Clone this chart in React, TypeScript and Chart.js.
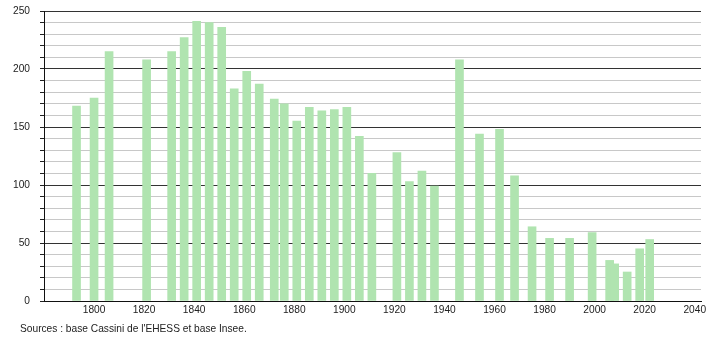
import React, { useEffect, useRef } from "react";
import { Chart, registerables } from "chart.js";

Chart.register(...registerables);

const years = [
  1793, 1800, 1806, 1821, 1831, 1836, 1841, 1846, 1851, 1856, 1861, 1866,
  1872, 1876, 1881, 1886, 1891, 1896, 1901, 1906, 1911, 1921, 1926, 1931,
  1936, 1946, 1954, 1962, 1968, 1975, 1982, 1990, 1999, 2006, 2008, 2013,
  2018, 2022,
];
const population = [
  168, 175, 215, 208, 215, 227, 241, 240, 236, 183, 198, 187,
  174, 170, 155, 167, 164, 165, 167, 142, 110, 128, 103, 112,
  99, 208, 144, 148, 108, 64, 54, 54, 59, 35, 32, 25,
  45, 53,
];
const yTickLabels = [0, 50, 100, 150, 200, 250];
const xTickLabels = [1800, 1820, 1840, 1860, 1880, 1900, 1920, 1940, 1960, 1980, 2000, 2020, 2040];
const sourceText = "Sources : base Cassini de l'EHESS et base Insee.";

const FONT = "Liberation Sans, Arial, sans-serif";

export default function App() {
  const ref = useRef<HTMLCanvasElement | null>(null);

  useEffect(() => {
    if (!ref.current) return;
    const chart = new Chart(ref.current, {
      type: "bar",
      data: {
        datasets: [
          {
            data: years.map((y, i) => ({ x: y, y: population[i] })),
            backgroundColor: "rgb(176, 228, 176)",
            borderWidth: 0,
            barThickness: 8,
          },
        ],
      },
      options: {
        responsive: false,
        animation: false,
        maintainAspectRatio: false,
        layout: { padding: { left: 0, top: 11, right: 9, bottom: 23 } },
        plugins: {
          legend: { display: false },
          tooltip: { enabled: false },
        },
        scales: {
          x: {
            type: "linear",
            offset: false,
            min: 1780,
            max: 2042.5,
            afterFit: (s: any) => {
              s.height = 16;
              s.paddingLeft = 0;
              s.paddingRight = 0;
            },
            afterBuildTicks: (s: any) => {
              s.ticks = xTickLabels.map((v) => ({ value: v }));
            },
            ticks: {
              autoSkip: false,
              maxRotation: 0,
              padding: 3,
              color: "#222",
              font: { family: FONT, size: 10.2 },
              callback: (v: any) => String(v),
            },
            grid: { display: true, drawOnChartArea: false, drawTicks: false, offset: false },
            border: { display: true, color: "#111", width: 1 },
          },
          y: {
            min: 0,
            max: 250,
            afterFit: (s: any) => {
              s.width = 44;
              s.paddingTop = 0;
              s.paddingBottom = 0;
            },
            ticks: {
              stepSize: 10,
              autoSkip: false,
              padding: 10,
              color: "#222",
              font: { family: FONT, size: 10.2 },
              callback: (v: any) => (yTickLabels.includes(Number(v)) ? String(v) : ""),
            },
            grid: {
              color: (ctx: any) =>
                ctx.tick && ctx.tick.value % 50 === 0 ? "#333333" : "#c8c8c8",
              tickColor: "#222",
              tickLength: 4,
              lineWidth: 1,
            },
            border: { display: true, color: "#111", width: 1 },
          },
        },
      },
    });
    return () => chart.destroy();
  }, []);

  return (
    <div style={{ position: "fixed", left: 0, top: 0, width: 710, height: 340, background: "#fff" }}>
      <canvas ref={ref} width={710} height={340} style={{ display: "block" }} />
      <div
        style={{
          position: "absolute",
          left: 20,
          top: 323,
          fontFamily: FONT,
          fontSize: 10.2,
          color: "#222",
          whiteSpace: "nowrap",
        }}
      >
        {sourceText}
      </div>
    </div>
  );
}
